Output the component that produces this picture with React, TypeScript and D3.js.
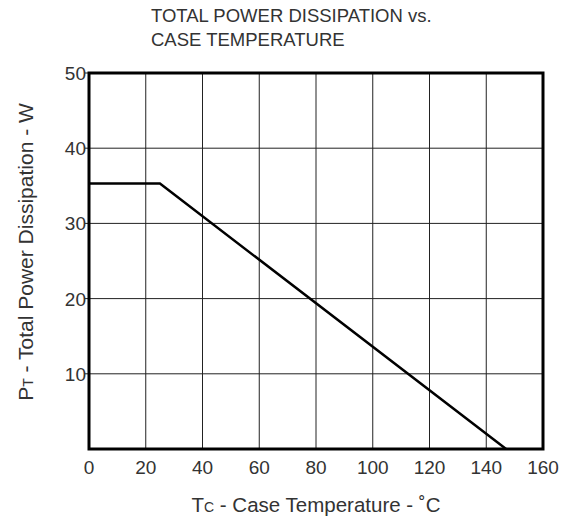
import * as d3 from "d3";

const tempPoints = [0, 25, 147];
const powerPoints = [35.3, 35.3, 0];
const xTicks = [0, 20, 40, 60, 80, 100, 120, 140, 160];
const yTicks = [10, 20, 30, 40, 50];

export default function App() {
  const width = 576;
  const height = 521;
  const m = { left: 89, right: 33, top: 73, bottom: 72 };

  const x = d3.scaleLinear().domain([0, 160]).range([m.left, width - m.right]);
  const y = d3.scaleLinear().domain([0, 50]).range([height - m.bottom, m.top]);

  const line = d3
    .line<number>()
    .x((d) => x(d))
    .y((_, i) => y(powerPoints[i]));

  const font = "'Liberation Sans', Arial, sans-serif";
  const textColor = "#333";

  return (
    <svg
      width={width}
      height={height}
      style={{ position: "absolute", left: 0, top: 0, background: "#fff" }}
      fontFamily={font}
    >
      {/* title */}
      <text x={151} y={22} fontSize={18.5} fill={textColor}>
        TOTAL POWER DISSIPATION vs.
      </text>
      <text x={151} y={46} fontSize={18.5} fill={textColor}>
        CASE TEMPERATURE
      </text>

      {/* grid */}
      {xTicks.slice(1, -1).map((t) => (
        <line key={"gx" + t} x1={x(t)} x2={x(t)} y1={y(0)} y2={y(50)} stroke="#222" strokeWidth={1} />
      ))}
      {yTicks.slice(0, -1).map((t) => (
        <line key={"gy" + t} x1={x(0)} x2={x(160)} y1={y(t)} y2={y(t)} stroke="#222" strokeWidth={1} />
      ))}
      {yTicks.map((t) => (
        <line key={"ty" + t} x1={x(0) - 4} x2={x(0)} y1={y(t)} y2={y(t)} stroke="#222" strokeWidth={1} />
      ))}

      {/* frame */}
      <rect
        x={x(0)}
        y={y(50)}
        width={x(160) - x(0)}
        height={y(0) - y(50)}
        fill="none"
        stroke="#000"
        strokeWidth={3}
      />

      {/* curve */}
      <path d={line(tempPoints) ?? ""} fill="none" stroke="#000" strokeWidth={2.5} />

      {/* tick labels */}
      {xTicks.map((t) => (
        <text key={"lx" + t} x={x(t)} y={y(0) + 25} fontSize={19} textAnchor="middle" fill={textColor}>
          {t}
        </text>
      ))}
      {yTicks.map((t) => (
        <text key={"ly" + t} x={x(0) - 3} y={y(t) + 7} fontSize={19} textAnchor="end" fill={textColor}>
          {t}
        </text>
      ))}

      {/* axis titles */}
      <text x={x(80)} y={512} fontSize={20.5} textAnchor="middle" fill={textColor}>
        T<tspan fontSize={14}>C</tspan> - Case Temperature - ˚C
      </text>
      <text
        transform="translate(33, 252) rotate(-90)"
        fontSize={21}
        textAnchor="middle"
        fill={textColor}
      >
        P<tspan fontSize={14}>T</tspan> - Total Power Dissipation - W
      </text>
    </svg>
  );
}
